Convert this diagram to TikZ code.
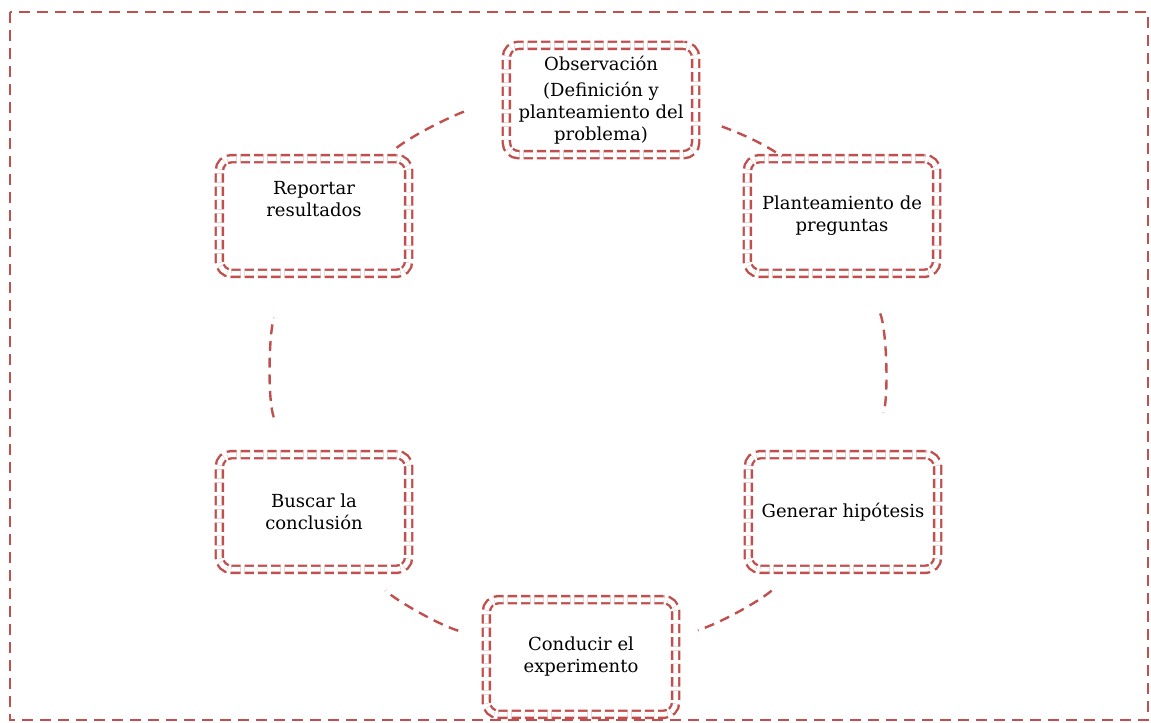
\documentclass[tikz,border=0pt]{standalone}
\usepackage{fontspec}
\setmainfont{DejaVu Serif}
\usepackage{tikz}
\usetikzlibrary{arrows}
\definecolor{accent}{RGB}{192,80,77}
\tikzset{
    stage/.style={
           rectangle,
           rounded corners=9pt,
           draw=accent, line width=1.8pt,
           double=white, double distance=3.6pt,
           dash pattern=on 7pt off 3pt,
           minimum width=142pt,
           minimum height=86pt,
           inner sep=2pt,
           align=center,
           font=\fontsize{13.5}{16.5}\selectfont,
           },
    link/.style={
           draw=accent, line width=1.8pt,
           dash pattern=on 7.5pt off 5pt,
           looseness=0.85,
           },
}
\begin{document}
\begin{tikzpicture}[x=0.75pt,y=0.75pt]
  \useasboundingbox (0,0) rectangle (1151,723);
  % frame
  \draw[accent, line width=1.9pt, dash pattern=on 8pt off 5.5pt]
    (10,711) rectangle (1148,3);
  % stages
  \node[stage, minimum height=82pt] (Obs) at (601,623)
    {Observación\\[3pt](Definición y\\planteamiento del\\problema)};
  \node[stage] (Plan) at (842,507) {Planteamiento de\\preguntas};
  \node[stage] (Gen) at (843,211) {Generar hipótesis};
  \node[stage] (Cond) at (581,66) {Conducir el\\experimento};
  \node[stage] (Busc) at (314,211) {Buscar la\\conclusión};
  \node[stage] (Rep) at (314,507) {Reportar\\resultados\\[9pt]\mbox{}};
  % cycle
  \path
    (Obs.-10) edge[link, out=-21, in=145,
      shorten <=20pt, shorten >=1.5pt] (Plan.135)
    (Plan.-69) edge[link, out=-68, in=72,
      shorten <=31.5pt, shorten >=32pt] (Gen.65)
    (Gen.-130) edge[link, out=-138, in=17,
      shorten <=22.5pt, shorten >=16.5pt] (Cond.12)
    (Cond.169) edge[link, out=164, in=-42,
      shorten <=21pt, shorten >=22.5pt] (Busc.-50)
    (Busc.116) edge[link, out=108, in=-112,
      shorten <=28.5pt, shorten >=35pt] (Rep.-111)
    (Rep.40) edge[link, out=37, in=193,
      shorten <=12pt, shorten >=28.5pt] (Obs.181)
  ;
\end{tikzpicture}
\end{document}
